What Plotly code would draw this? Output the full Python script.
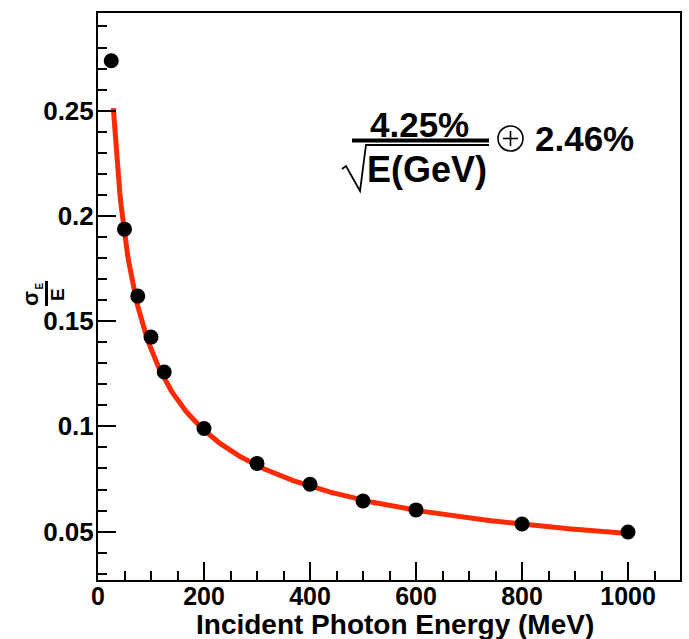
import numpy as np
import plotly.graph_objects as go

# ---- data ----
energy_mev = [25, 50, 75, 100, 125, 200, 300, 400, 500, 600, 800, 1000]
resolution = [0.2737, 0.1937, 0.1619, 0.1424, 0.1258, 0.0990, 0.0824, 0.0725, 0.0645, 0.0603, 0.0536, 0.0498]

# fit parameters shown in the chart: 4.25%/sqrt(E) (+) 2.46%
stoch_term = 0.0425
const_term = 0.0246
fit_e_min, fit_e_max = 28.9, 1000

x_range = [0, 1098]
y_range = [0.027, 0.2964]
y_tickvals = [0.05, 0.1, 0.15, 0.2, 0.25]
y_ticktext = ["0.05", "0.1", "0.15", "0.2", "0.25"]
x_title = "Incident Photon Energy (MeV)"

W, H = 689, 639
ML, MR, MT, MB = 98, 9, 13, 59
PW, PH = W - ML - MR, H - MT - MB


def px(x):
    return (x - ML) / PW


def py(y):
    return (H - MB - y) / PH


fit_e = np.linspace(fit_e_min, fit_e_max, 400)
fit_res = np.sqrt((stoch_term / np.sqrt(fit_e / 1000.0)) ** 2 + const_term ** 2)

FONT = "Liberation Sans, Arial, Helvetica, sans-serif"

fig = go.Figure()
fig.add_trace(go.Scatter(x=fit_e, y=fit_res, mode="lines",
                         line=dict(color="#ff2a00", width=5), hoverinfo="skip"))
fig.add_trace(go.Scatter(x=energy_mev, y=resolution, mode="markers",
                         marker=dict(color="black", size=15)))

axis_common = dict(showgrid=False, zeroline=False, showline=True, linecolor="black",
                   linewidth=2, mirror=True, ticks="inside", tickcolor="black",
                   tickwidth=2, ticklen=18, automargin=False)

fig.update_xaxes(range=x_range, dtick=200, tick0=0, ticklabelstandoff=-7,
                 tickfont=dict(family=FONT, size=25, color="black", weight="bold"),
                 minor=dict(dtick=50, ticklen=9, tickwidth=2, ticks="inside", tickcolor="black"),
                 **axis_common)
fig.update_yaxes(range=y_range, tickvals=y_tickvals, ticktext=y_ticktext,
                 ticklabelstandoff=-3,
                 tickfont=dict(family=FONT, size=26, color="black", weight="bold"),
                 minor=dict(dtick=0.01, tick0=0, ticklen=9, tickwidth=2, ticks="inside",
                            tickcolor="black"),
                 **axis_common)


def note(x, y, text, size, angle=0):
    return dict(x=px(x), y=py(y), xref="paper", yref="paper", showarrow=False,
                xanchor="center", yanchor="middle", text=text, textangle=angle,
                font=dict(family=FONT, size=size, color="black"))


ann = [
    # x-axis title
    note(395, 624, "<b>" + x_title + "</b>", 28),
    # y-axis title: sigma_E over E, rotated
    note(30, 299, "<b>σ</b>", 22, -90),
    note(38.5, 286, "<b>E</b>", 10, -90),
    note(57, 295, "<b>E</b>", 19, -90),
    # formula
    note(419, 124, "<b>4.25%</b>", 35),
    note(427, 169, "<b>E(GeV)</b>", 36),
    note(584, 138, "<b>2.46%</b>", 35),
]

shapes = []
# fraction bar of y title
shapes.append(dict(type="line", xref="paper", yref="paper", x0=px(46.5), x1=px(46.5),
                   y0=py(281), y1=py(306), line=dict(color="black", width=3)))
# formula fraction bar
shapes.append(dict(type="line", xref="paper", yref="paper", x0=px(352), x1=px(489),
                   y0=py(140.5), y1=py(140.5), line=dict(color="black", width=4)))
# square-root sign and overline
path = "M {} {} L {} {} L {} {} L {} {} L {} {}".format(
    px(342), py(169), px(346), py(166), px(360), py(191), px(366), py(145), px(489), py(145))
shapes.append(dict(type="path", xref="paper", yref="paper", path=path,
                   line=dict(color="black", width=1.8)))
# oplus
shapes.append(dict(type="circle", xref="paper", yref="paper", x0=px(498), x1=px(523),
                   y0=py(126), y1=py(151), line=dict(color="black", width=1.6)))
shapes.append(dict(type="line", xref="paper", yref="paper", x0=px(503), x1=px(518),
                   y0=py(138.5), y1=py(138.5), line=dict(color="black", width=1.6)))
shapes.append(dict(type="line", xref="paper", yref="paper", x0=px(510.5), x1=px(510.5),
                   y0=py(131), y1=py(146), line=dict(color="black", width=1.6)))

fig.update_layout(width=W, height=H, margin=dict(l=ML, r=MR, t=MT, b=MB, autoexpand=False),
                  paper_bgcolor="white", plot_bgcolor="white", showlegend=False,
                  annotations=ann, shapes=shapes)

fig.write_html("out.html")
